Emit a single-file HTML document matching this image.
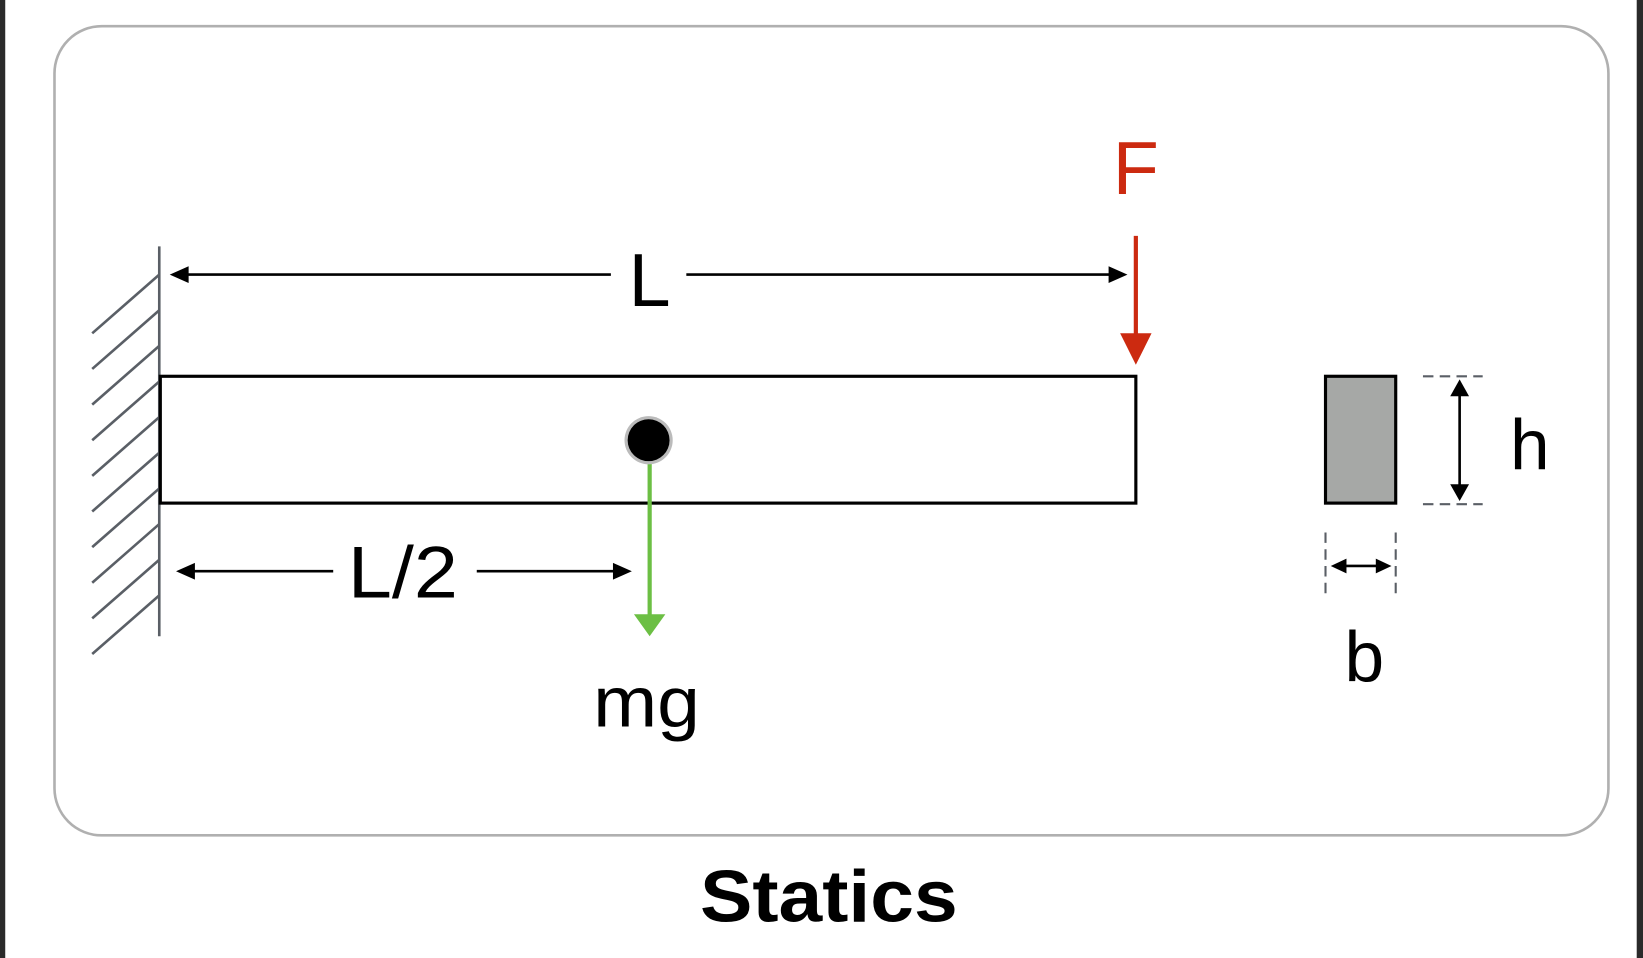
<!DOCTYPE html>
<html><head><style>
html,body{margin:0;padding:0;background:#fff;}
svg{display:block;}
text{font-family:"Liberation Sans",sans-serif;}
</style></head><body>
<svg width="1643" height="958" viewBox="0 0 1568 914" preserveAspectRatio="none" xmlns="http://www.w3.org/2000/svg">
<rect x="0" y="0" width="1568" height="914" fill="#fff"/>
<rect x="0" y="0" width="5" height="914" fill="#2a2a2a"/>
<rect x="1562" y="0" width="6" height="914" fill="#2a2a2a"/>
<rect x="52" y="25" width="1483" height="772" rx="45" ry="45" fill="#fff" stroke="#b0b0b0" stroke-width="2.5"/>
<g stroke="#5a5f66" stroke-width="2.5">
<line x1="152" y1="235" x2="152" y2="607"/>
<line x1="88" y1="318" x2="152" y2="262"/>
<line x1="88" y1="352" x2="152" y2="296"/>
<line x1="88" y1="386" x2="152" y2="330"/>
<line x1="88" y1="420" x2="152" y2="364"/>
<line x1="88" y1="454" x2="152" y2="398"/>
<line x1="88" y1="488" x2="152" y2="432"/>
<line x1="88" y1="522" x2="152" y2="466"/>
<line x1="88" y1="556" x2="152" y2="500"/>
<line x1="88" y1="590" x2="152" y2="534"/>
<line x1="88" y1="624" x2="152" y2="568"/>
</g>
<rect x="153" y="359" width="931" height="121" fill="none" stroke="#000" stroke-width="3"/>
<g stroke="#000" stroke-width="2.5">
<line x1="172" y1="262" x2="583" y2="262"/>
<line x1="655" y1="262" x2="1066" y2="262"/>
<line x1="178" y1="545" x2="318" y2="545"/>
<line x1="455" y1="545" x2="593" y2="545"/>
</g>
<polygon points="162,262 180,254 180,270" fill="#000"/>
<polygon points="1076,262 1058,254 1058,270" fill="#000"/>
<polygon points="168,545 186,537 186,553" fill="#000"/>
<polygon points="603,545 585,537 585,553" fill="#000"/>
<text x="620" y="292" font-size="72" text-anchor="middle" fill="#000">L</text>
<text x="332" y="570" font-size="70" textLength="105" lengthAdjust="spacingAndGlyphs" fill="#000">L/2</text>
<line x1="1084" y1="225" x2="1084" y2="322" stroke="#cc2a10" stroke-width="4"/>
<polygon points="1069,318 1099,318 1084,348" fill="#cc2a10"/>
<text x="1084" y="185" font-size="72" text-anchor="middle" fill="#cc2a10">F</text>
<line x1="620" y1="438" x2="620" y2="592" stroke="#6cbf44" stroke-width="4"/>
<polygon points="605,586 635,586 620,607" fill="#6cbf44"/>
<circle cx="619" cy="420" r="23" fill="#bbb"/>
<circle cx="619" cy="420" r="20" fill="#000"/>
<text x="566" y="693" font-size="68" textLength="102" lengthAdjust="spacingAndGlyphs" fill="#000">mg</text>
<rect x="1265" y="359" width="67" height="121" fill="#a6a8a6" stroke="#000" stroke-width="3"/>
<g stroke="#5a5f66" stroke-width="2" stroke-dasharray="10,6">
<line x1="1358" y1="359" x2="1415" y2="359"/>
<line x1="1358" y1="481" x2="1415" y2="481"/>
<line x1="1265" y1="508" x2="1265" y2="566"/>
<line x1="1332" y1="508" x2="1332" y2="566"/>
</g>
<line x1="1393" y1="372" x2="1393" y2="468" stroke="#000" stroke-width="2.5"/>
<polygon points="1393,362 1384,378 1402,378" fill="#000"/>
<polygon points="1393,478 1384,462 1402,462" fill="#000"/>
<text x="1460" y="448" font-size="68" text-anchor="middle" fill="#000">h</text>
<line x1="1280" y1="540" x2="1318" y2="540" stroke="#000" stroke-width="2.5"/>
<polygon points="1270,540 1285,533 1285,547" fill="#000"/>
<polygon points="1328,540 1313,533 1313,547" fill="#000"/>
<text x="1302" y="650" font-size="68" text-anchor="middle" fill="#000">b</text>
<text x="668" y="879" font-size="70" font-weight="bold" textLength="246" lengthAdjust="spacingAndGlyphs" fill="#000">Statics</text>
</svg>
</body></html>
